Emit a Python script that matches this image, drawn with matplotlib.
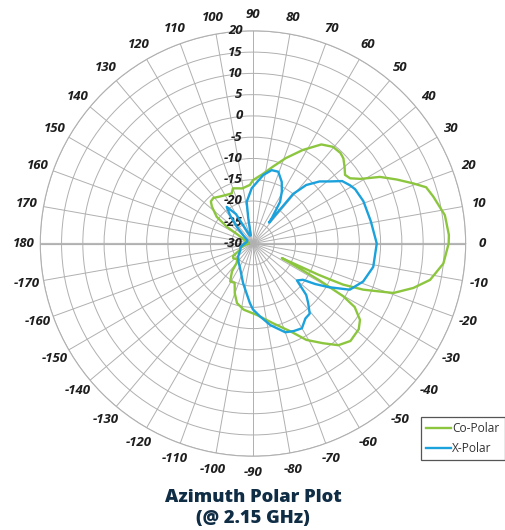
import numpy as np
import matplotlib
matplotlib.use("Agg")
import matplotlib.pyplot as plt
from matplotlib.transforms import offset_copy

# Co-Polar trace, angle in degrees / gain in dB
co_angle = [-180, -170, -160, -154, -148, -143, -135, -130, -127, -121, -115, -110,
            -105, -98, -87, -76, -67, -61, -55, -50, -45, -39, -35.5, -32, -30.3,
            -29, -27.5, -26.8, -25.5, -25, -24.5, -22.7, -19.4, -15.5, -11.6, -6,
            0, 2.5, 8.4, 14.6, 18, 20.6, 24, 27.7, 31, 33.9, 36.7, 40, 43.3, 46,
            50.4, 55.4, 62, 69, 75.4, 82, 90, 93, 101, 106, 110, 113, 118, 125,
            131, 135, 138, 143.6, 147.4, 150, 160, 170, 180]
co_db = [-29, -28, -26.8, -26.6, -24.5, -24.2, -24.8, -24, -21.8, -19.6, -19.8, -17.5,
         -15.5, -14.3, -13.2, -10.7, -7.6, -4.1, -1.4, 1.2, 2.4, 2.0, 0.9, -1.8, -5.4,
         -12, -20, -22.4, -13, -10, -6.7, -1.9, 5.0, 9.1, 12.5, 15.0,
         16.0, 16.1, 15.6, 13.8, 12.8, 10.2, 7, 3.7, -0.5, -2.5, -3.0, -1.9, -0.8, -0.4,
         -0.5, -1.7, -5.1, -8.5, -11.3, -13.5, -15.1, -16.2, -16.8, -16.5, -16.2, -17.2, -17, -16.5,
         -15.8, -16, -17, -19.4, -22.7, -26, -28, -29, -29]

# X-Polar trace
x_angle = [-180, -165, -150, -139, -128, -118, -104, -93, -90, -84.5, -78, -70, -65,
           -60, -55, -51, -47, -44, -40, -36, -33, -30, -25.5, -19, -11, 0, 10.6,
           21, 28, 31, 35, 39, 43, 47.7, 51, 52.5, 53.4, 57, 61, 65, 70.6, 75.7,
           81.4, 91.3, 98.6, 100.6, 105, 112, 120, 125.6, 129, 134, 140, 150, 165, 180]
x_db = [-28, -27, -26.5, -25.4, -24.5, -23.5, -20.4, -16, -14.5, -12.8, -10.4, -7.8, -7.3,
        -7, -8.5, -8.8, -11, -12.6, -16.5, -15.5, -12.5, -9.5, -4.8, -2.6, -1.2, -0.9, -1.8,
        -2.2, -2.8, -3.4, -4.4, -6.8, -8.6, -11.4, -15, -23.8, -22.6, -18.3, -16, -14, -12.1, -12.2,
        -13.7, -17, -20.1, -24, -28, -28, -22, -19.4, -21.4, -24.5, -27, -28.5, -28.5, -28]

r_ticks = [-30, -25, -20, -15, -10, -5, 0, 5, 10, 15, 20]
theta_ticks = list(range(-170, 181, 10))

fig = plt.figure(figsize=(5.06, 5.30), dpi=100)
ax = fig.add_axes([0.0796, 0.1392, 0.8407, 0.8026], projection="polar")

ax.plot(np.radians(co_angle), co_db, color="#8cc63f", lw=1.7, label="Co-Polar", zorder=3)
ax.plot(np.radians(x_angle), x_db, color="#1ba1db", lw=1.7, label="X-Polar", zorder=4)

ax.set_xticks(np.radians(np.mod(theta_ticks, 360)))
ax.set_xticklabels([])
ax.set_xlim(0, 2 * np.pi)
ax.set_ylim(-30, 20)
ax.set_yticks(r_ticks)
ax.set_yticklabels([])
ax.grid(True, color="#b0b0b0", lw=0.7)
ax.spines["polar"].set_color("#b0b0b0")
ax.spines["polar"].set_linewidth(0.8)
# heavier horizontal axis line
ax.plot([0, 0], [-30, 20], color="#b8b8b8", lw=1.6, zorder=1)
ax.plot([np.pi, np.pi], [-30, 20], color="#b8b8b8", lw=1.6, zorder=1)

lab_font = dict(family="Open Sans", style="italic", weight="bold", size=9.5, color="#1e1e1e")
for t in theta_ticks:
    ax.text(np.radians(t), 23.9, str(t), ha="center", va="center", **lab_font)

trans = offset_copy(ax.transData, fig=fig, x=-7.5, y=0, units="points")
for v in r_ticks:
    ax.text(np.pi / 2, v, str(v), transform=trans, ha="right", va="center", **lab_font)

title_font = dict(family="Open Sans", weight=800, size=13.2, color="#0f2d45",
                  ha="center", va="center")
fig.text(0.5, 1 - 497 / 530, "Azimuth Polar Plot", **title_font)
fig.text(0.5, 1 - 518 / 530, "(@ 2.15 GHz)", **title_font)

leg = fig.legend(loc="upper right", bbox_to_anchor=(505 / 506, 1 - 417 / 530),
                 frameon=True, fancybox=False, edgecolor="#555555", framealpha=1,
                 prop=dict(family="Open Sans", size=8.6), handlelength=2.1,
                 handletextpad=0.1, borderpad=0.45, labelspacing=0.55, borderaxespad=0)
leg.get_frame().set_linewidth(0.9)
for txt in leg.get_texts():
    txt.set_color("#333333")

fig.savefig("out.png", dpi=100)
